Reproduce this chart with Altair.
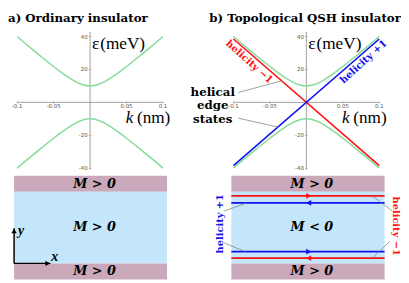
import altair as alt
import pandas as pd

# ------------------------------------------------------------------ data
k_vals = [-0.10, -0.09, -0.08, -0.07, -0.06, -0.05, -0.04, -0.03, -0.02, -0.01, 0.00,
          0.01, 0.02, 0.03, 0.04, 0.05, 0.06, 0.07, 0.08, 0.09, 0.10]
eps_conduction = [40.0, 36.2, 32.5, 28.9, 25.3, 21.8, 18.4, 15.3, 12.6, 10.7, 10.0,
                  10.7, 12.6, 15.3, 18.4, 21.8, 25.3, 28.9, 32.5, 36.2, 40.0]
eps_valence = [-40.0, -36.2, -32.5, -28.9, -25.3, -21.8, -18.4, -15.3, -12.6, -10.7, -10.0,
               -10.7, -12.6, -15.3, -18.4, -21.8, -25.3, -28.9, -32.5, -36.2, -40.0]
edge_k = [-0.10, 0.10]
eps_helicity_minus = [38.5, -38.5]
eps_helicity_plus = [-38.5, 38.5]

k_axis = [-0.10, 0.10]
eps_axis = [-41.0, 43.0]
k_ticks = [-0.1, -0.05, 0.05, 0.1]
k_tick_labels = ["-0.1", "-0.05", "0.05", "0.1"]
eps_ticks = [40, 20, -20, -40]
eps_tick_labels = ["40", "20", "-20", "-40"]

# slab schematic (units 0..100 across / up the slab)
slab_x = [0.0, 100.0]
region_bottom = [84.6, 15.6, 0.0]
region_top = [100.0, 84.6, 15.6]
region_kind = ["trivial", "bulk", "trivial"]
mass_labels_a = ["M > 0", "M > 0", "M > 0"]
mass_labels_b = ["M > 0", "M < 0", "M > 0"]
channel_y = [80.6, 73.8, 26.9, 20.6]
channel_helicity = ["-1", "+1", "+1", "-1"]
channel_direction = ["right", "left", "right", "left"]
channel_arrow_x = [50.5, 50.5, 50.5, 50.5]

# ------------------------------------------------------------------ layout helpers
W, H = 400, 274
SX = W / 407.0
SY = H / 281.0


def px(rx):
    return (rx - 1.0) * SX


def py(ry):
    return (ry - 2.0) * SY


GREEN = "#85dc9a"
RED = "#ff1111"
BLUE = "#1010ee"
MAUVE = "#c9a9ba"
LIGHTBLUE = "#c4e6fb"
AXIS = "#8a8a8a"
SERIF = "DejaVu Serif"
TIMES = "Liberation Serif"

BAND_Y = [py(166.7), py(29.3)]
STRIP_Y = [py(283.0), py(174.5)]


def band_scales(xr):
    sx = alt.Scale(domain=[-0.1, 0.1], range=[px(xr[0]), px(xr[1])], nice=False, zero=False)
    sy = alt.Scale(domain=[-40, 40], range=BAND_Y, nice=False, zero=False)
    return sx, sy


def strip_scales(xr):
    sx = alt.Scale(domain=[0, 100], range=[px(xr[0]), px(xr[1])], nice=False, zero=False)
    sy = alt.Scale(domain=[0, 100], range=STRIP_Y, nice=False, zero=False)
    return sx, sy


def one(text):
    return alt.Data(values=[{"t": text}])


def ptext(text, rx, ry, **kw):
    return alt.Chart(one(text)).mark_text(**kw).encode(
        x=alt.value(px(rx)), y=alt.value(py(ry)), text="t:N")


band_df = pd.DataFrame({
    "k": k_vals + k_vals,
    "eps": eps_conduction + eps_valence,
    "band": ["c"] * len(k_vals) + ["v"] * len(k_vals),
})
hor_axis_df = pd.DataFrame({"k0": [k_axis[0]], "k1": [k_axis[1]], "e": [0.0]})
ver_axis_df = pd.DataFrame({"k": [0.0], "e0": [eps_axis[0]], "e1": [eps_axis[1]]})
kt_df = pd.DataFrame({"k": k_ticks, "lab": k_tick_labels, "e": [0.0] * len(k_ticks)})
et_df = pd.DataFrame({"e": eps_ticks, "lab": eps_tick_labels, "k": [0.0] * len(eps_ticks)})


def band_panel(xr, dx_lab):
    sx, sy = band_scales(xr)
    X = lambda f: alt.X(f, scale=sx, axis=None)
    Y = lambda f: alt.Y(f, scale=sy, axis=None)
    layers = [
        alt.Chart(hor_axis_df).mark_rule(color=AXIS, strokeWidth=0.8).encode(
            x=X("k0:Q"), x2="k1:Q", y=Y("e:Q")),
        alt.Chart(ver_axis_df).mark_rule(color=AXIS, strokeWidth=0.8).encode(
            x=X("k:Q"), y=Y("e0:Q"), y2="e1:Q"),
        alt.Chart(kt_df).mark_tick(orient="vertical", size=3, thickness=0.7, color=AXIS).encode(
            x=X("k:Q"), y=Y("e:Q")),
        alt.Chart(et_df).mark_tick(orient="horizontal", size=3, thickness=0.7, color=AXIS).encode(
            x=X("k:Q"), y=Y("e:Q")),
        alt.Chart(kt_df).mark_text(baseline="top", dy=2, fontSize=5.5, color="#555",
                                   font="DejaVu Sans").encode(
            x=X("k:Q"), y=Y("e:Q"), text="lab:N"),
        alt.Chart(et_df).mark_text(align="right", baseline="middle", dx=-2.5, fontSize=5.5,
                                   color="#555", font="DejaVu Sans").encode(
            x=X("k:Q"), y=Y("e:Q"), text="lab:N"),
        alt.Chart(band_df).mark_line(color=GREEN, strokeWidth=1.5, interpolate="monotone").encode(
            x=X("k:Q"), y=Y("eps:Q"), detail="band:N"),
        ptext("\u03b5", 88.0 + dx_lab, 37.0, align="left", font=TIMES, fontSize=18, color="black"),
        ptext("(meV)", 96.5 + dx_lab, 37.0, align="left", font=TIMES, fontSize=17.5, color="black"),
        ptext("k", 123.0 + dx_lab, 114.5, align="left", font=TIMES, fontSize=17.5,
              fontStyle="italic", color="black"),
        ptext("(nm)", 134.5 + dx_lab, 114.5, align="left", font=TIMES, fontSize=17.5, color="black"),
    ]
    return layers, X, Y


# ---------------- panel a (band)
layers_a, Xa, Ya = band_panel((10.5, 161.5), 0.0)
# ---------------- panel b (band)
layers_b, Xb, Yb = band_panel((234.5, 385.5), 224.0)

edge_df = pd.DataFrame({
    "k": edge_k + edge_k,
    "eps": eps_helicity_minus + eps_helicity_plus,
    "h": ["-1", "-1", "+1", "+1"],
})
layers_b += [
    alt.Chart(edge_df[edge_df.h == "-1"]).mark_line(color=RED, strokeWidth=1.6).encode(
        x=Xb("k:Q"), y=Yb("eps:Q")),
    alt.Chart(edge_df[edge_df.h == "+1"]).mark_line(color=BLUE, strokeWidth=1.6).encode(
        x=Xb("k:Q"), y=Yb("eps:Q")),
    alt.Chart(pd.DataFrame({"k": [-0.072], "e": [27.7], "t": ["helicity \u22121"]})).mark_text(
        angle=42, align="center", baseline="top", dy=2, font=SERIF, fontWeight="bold",
        fontSize=10, color=RED).encode(x=Xb("k:Q"), y=Yb("e:Q"), text="t:N"),
    alt.Chart(pd.DataFrame({"k": [0.072], "e": [27.7], "t": ["helicity +1"]})).mark_text(
        angle=318, align="center", baseline="top", dy=2, font=SERIF, fontWeight="bold",
        fontSize=10, color=BLUE).encode(x=Xb("k:Q"), y=Yb("e:Q"), text="t:N"),
    alt.Chart(pd.DataFrame({"k0": [-0.0934, -0.0934], "k1": [-0.034, -0.039],
                            "e0": [6.0, -9.6], "e1": [13.1, -15.0]})).mark_rule(
        color="#777", strokeWidth=0.7).encode(
        x=Xb("k0:Q"), x2="k1:Q", y=Yb("e0:Q"), y2="e1:Q"),
]

# ---------------- strips
def strip_panel(xr, labels):
    sx, sy = strip_scales(xr)
    X = lambda f: alt.X(f, scale=sx, axis=None)
    Y = lambda f: alt.Y(f, scale=sy, axis=None)
    reg = pd.DataFrame({"x0": [slab_x[0]] * 3, "x1": [slab_x[1]] * 3,
                        "y0": region_bottom, "y1": region_top, "kind": region_kind,
                        "lab": labels,
                        "xm": [(slab_x[0] + slab_x[1]) / 2] * 3,
                        "ym": [(a + b) / 2 for a, b in zip(region_bottom, region_top)]})
    layers = [
        alt.Chart(reg).mark_rect().encode(
            x=X("x0:Q"), x2="x1:Q", y=Y("y0:Q"), y2="y1:Q",
            color=alt.Color("kind:N", scale=alt.Scale(domain=["trivial", "bulk"],
                                                      range=[MAUVE, LIGHTBLUE]), legend=None)),
        alt.Chart(reg).mark_text(font=SERIF, fontWeight="bold", fontStyle="italic", fontSize=13,
                                 dx=4, baseline="middle", color="black").encode(
            x=X("xm:Q"), y=Y("ym:Q"), text="lab:N"),
    ]
    return layers, X, Y


strip_a, Xsa, Ysa = strip_panel((7.3, 165.7), mass_labels_a)
strip_b, Xsb, Ysb = strip_panel((232.3, 391.0), mass_labels_b)

coord_df = pd.DataFrame({"x0": [0.0, 0.0], "x1": [0.0, 23.8], "y0": [15.6, 15.6], "y1": [49.3, 15.6]})
head_df = pd.DataFrame({"x": [0.0, 22.0], "y": [46.8, 15.6], "s": ["up", "right"]})
coord_lab_df = pd.DataFrame({"x": [4.6, 26.6], "y": [47.0, 21.5], "t": ["y", "x"]})
strip_a += [
    alt.Chart(coord_df).mark_rule(color="black", strokeWidth=1.5).encode(
        x=Xsa("x0:Q"), x2="x1:Q", y=Ysa("y0:Q"), y2="y1:Q"),
    alt.Chart(head_df).mark_point(filled=True, size=30, opacity=1, color="black").encode(
        x=Xsa("x:Q"), y=Ysa("y:Q"),
        shape=alt.Shape("s:N", scale=alt.Scale(domain=["up", "right"],
                                               range=["triangle-up", "triangle-right"]), legend=None)),
    alt.Chart(coord_lab_df).mark_text(font=TIMES, fontStyle="italic", fontWeight="bold",
                                      fontSize=14, baseline="middle", color="black").encode(
        x=Xsa("x:Q"), y=Ysa("y:Q"), text="t:N"),
]

chan_df = pd.DataFrame({"x0": [slab_x[0]] * 4, "x1": [slab_x[1]] * 4, "y": channel_y,
                        "h": channel_helicity, "d": channel_direction, "xa": channel_arrow_x})
hel_scale = alt.Scale(domain=["-1", "+1"], range=[RED, BLUE])
strip_b += [
    alt.Chart(chan_df).mark_rule(strokeWidth=1.7).encode(
        x=Xsb("x0:Q"), x2="x1:Q", y=Ysb("y:Q"),
        color=alt.Color("h:N", scale=hel_scale, legend=None)),
    alt.Chart(chan_df).mark_point(filled=True, size=34, opacity=1).encode(
        x=Xsb("xa:Q"), y=Ysb("y:Q"),
        color=alt.Color("h:N", scale=hel_scale, legend=None),
        shape=alt.Shape("d:N", scale=alt.Scale(domain=["right", "left"],
                                               range=["triangle-right", "triangle-left"]), legend=None)),
    alt.Chart(pd.DataFrame({"x0": [-4.6, -4.6, 105.0, 103.4], "x1": [10.1, 9.1, 92.0, 92.0],
                            "y0": [66.0, 35.2, 66.0, 36.8], "y1": [73.8, 26.9, 80.6, 20.6]})).mark_rule(
        color="#777", strokeWidth=0.7).encode(
        x=Xsb("x0:Q"), x2="x1:Q", y=Ysb("y0:Q"), y2="y1:Q"),
    alt.Chart(pd.DataFrame({"x": [-7.1], "y": [53.7], "t": ["helicity +1"]})).mark_text(
        angle=270, align="center", baseline="middle", font=SERIF, fontWeight="bold",
        fontSize=10, color=BLUE).encode(x=Xsb("x:Q"), y=Ysb("y:Q"), text="t:N"),
    alt.Chart(pd.DataFrame({"x": [107.4], "y": [51.4], "t": ["helicity \u22121"]})).mark_text(
        angle=90, align="center", baseline="middle", font=SERIF, fontWeight="bold",
        fontSize=10, color=RED).encode(x=Xsb("x:Q"), y=Ysb("y:Q"), text="t:N"),
]

# ---------------- titles & free annotations
annotations = [
    ptext("a) Ordinary insulator", 1.0, 10.5, align="left", font=SERIF, fontWeight="bold",
          fontSize=12, color="black"),
    ptext("b) Topological QSH insulator", 209.5, 10.5, align="left", font=SERIF,
          fontWeight="bold", fontSize=12, color="black"),
    alt.Chart(one("helical\nedge\nstates")).mark_text(
        align="center", baseline="alphabetic", lineBreak="\n", lineHeight=13.5, font=SERIF,
        fontWeight="bold", fontSize=12, color="black").encode(
        x=alt.value(px(213.0)), y=alt.value(py(91.5)), text="t:N"),
]

chart = alt.layer(*(strip_a + strip_b + layers_a + layers_b + annotations)).resolve_scale(
    x="independent", y="independent", color="independent", shape="independent"
).properties(
    width=W, height=H, padding=0, autosize=alt.AutoSizeParams(type="none")
).configure_view(stroke=None)

chart.save("out.html", embed_options={"renderer": "svg", "actions": False})
